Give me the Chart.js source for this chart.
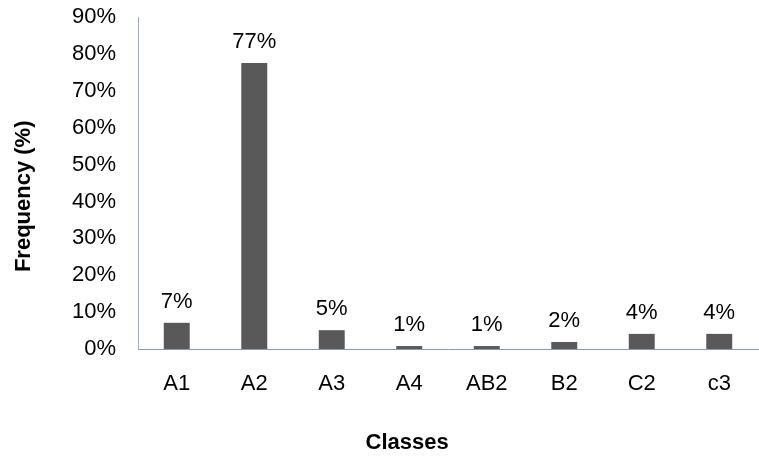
<!DOCTYPE html>
<html><head><meta charset="utf-8">
<script src="https://cdn.jsdelivr.net/npm/chart.js@4"></script>
<style>html,body{margin:0;padding:0;background:#fff}#c{display:block}</style>
</head><body>
<canvas id="c" width="759" height="458"></canvas>
<script>
const categories = ['A1','A2','A3','A4','AB2','B2','C2','c3'];
const frequency = [7.1, 77.5, 5.1, 0.8, 0.8, 1.9, 4.1, 4.1];
const valueLabels = ['7%','77%','5%','1%','1%','2%','4%','4%'];
const yTicks = [0,10,20,30,40,50,60,70,80,90];
const xTitle = 'Classes';
const yTitle = 'Frequency (%)';

const FONT = '"Liberation Sans", Arial, sans-serif';

const labelPlugin = {
  id: 'labels',
  afterDatasetsDraw(chart) {
    const ctx = chart.ctx;
    const meta = chart.getDatasetMeta(0);
    ctx.save();
    ctx.font = '22px ' + FONT;
    ctx.fillStyle = '#000';
    ctx.textAlign = 'center';
    ctx.textBaseline = 'alphabetic';
    meta.data.forEach((bar, i) => {
      ctx.fillText(valueLabels[i], bar.x, bar.y - 15);
    });
    // axis titles
    const ca = chart.chartArea;
    ctx.font = 'bold 22px ' + FONT;
    ctx.textBaseline = 'middle';
    ctx.fillText(xTitle, ca.left + ca.width * 0.434, 443);
    ctx.translate(24, ca.top + (ca.bottom - ca.top) * 0.54);
    ctx.rotate(-Math.PI / 2);
    ctx.fillText(yTitle, 0, 0);
    ctx.restore();
  }
};

new Chart(document.getElementById('c'), {
  type: 'bar',
  data: {
    labels: categories,
    datasets: [{
      data: frequency,
      backgroundColor: '#595959',
      borderWidth: 0,
      barPercentage: 0.335,
      categoryPercentage: 1
    }]
  },
  options: {
    responsive: false,
    animation: false,
    layout: { padding: { top: 17, right: 1, left: 0, bottom: 0 } },
    plugins: { legend: { display: false }, tooltip: { enabled: false } },
    scales: {
      x: {
        grid: { display: false, drawTicks: false },
        border: { color: '#8a98b0', width: 1 },
        ticks: { font: { size: 22, family: FONT }, color: '#000', padding: 22, maxRotation: 0 },
        afterFit(s) { s.height = 458 - 349; s.paddingLeft = 0; s.paddingRight = 0; }
      },
      y: {
        min: 0, max: 90,
        grid: { display: false, drawTicks: false },
        border: { color: '#a0aabb', width: 1 },
        afterBuildTicks(s) { s.ticks = yTicks.map(v => ({ value: v })); },
        ticks: { font: { size: 22, family: FONT }, color: '#000', padding: 22,
                 callback: v => v + '%' },
        afterFit(s) { s.width = 138; s.paddingTop = 0; s.paddingBottom = 0; }
      }
    }
  },
  plugins: [labelPlugin]
});
</script>
</body></html>
